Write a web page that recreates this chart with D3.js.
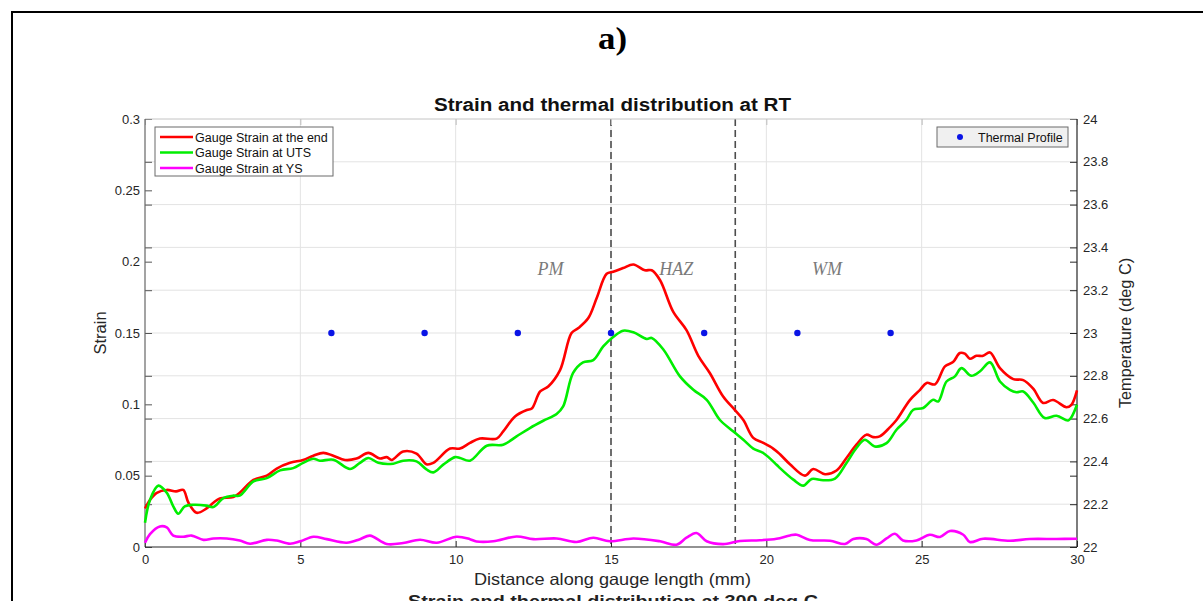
<!DOCTYPE html>
<html>
<head>
<meta charset="utf-8">
<script src="https://cdn.jsdelivr.net/npm/d3@7"></script>
<style>
  html, body { margin: 0; padding: 0; background: #fff; }
  svg { display: block; }
</style>
</head>
<body>
<svg id="chart" width="1203" height="601"></svg>
<script>
// Gauge strain along the specimen, [distance (mm), strain]
const strainEnd = [[0,0.027],[0.16,0.033],[0.38,0.038],[0.7,0.040],[1.0,0.039],[1.23,0.040],[1.4,0.031],[1.66,0.024],[1.98,0.027],[2.2,0.031],[2.41,0.034],[2.84,0.035],[3.05,0.038],[3.49,0.047],[3.92,0.050],[4.24,0.055],[4.67,0.059],[5.09,0.061],[5.42,0.064],[5.74,0.066],[6.06,0.064],[6.44,0.061],[6.81,0.062],[7.19,0.066],[7.56,0.062],[7.78,0.063],[7.94,0.061],[8.31,0.067],[8.74,0.0655],[9.06,0.058],[9.28,0.059],[9.82,0.069],[10.14,0.069],[10.46,0.073],[10.78,0.076],[11.32,0.076],[11.53,0.081],[11.91,0.0915],[12.29,0.096],[12.45,0.097],[12.72,0.109],[12.98,0.1125],[13.36,0.124],[13.73,0.150],[13.95,0.1535],[14.27,0.1605],[14.54,0.1745],[14.86,0.1915],[15.07,0.193],[15.39,0.1955],[15.72,0.198],[16.09,0.194],[16.31,0.194],[16.58,0.187],[17.0,0.165],[17.43,0.152],[17.81,0.134],[18.18,0.122],[18.61,0.1055],[18.99,0.096],[19.26,0.089],[19.58,0.0765],[19.9,0.073],[20.22,0.069],[20.44,0.065],[20.76,0.058],[21.24,0.050],[21.51,0.0547],[21.89,0.051],[22.26,0.0536],[22.58,0.0624],[22.9,0.0717],[23.22,0.0787],[23.44,0.077],[23.65,0.0775],[23.98,0.084],[24.19,0.089],[24.62,0.103],[24.94,0.110],[25.16,0.115],[25.43,0.114],[25.75,0.1266],[26.01,0.1296],[26.23,0.136],[26.39,0.1355],[26.55,0.132],[26.76,0.134],[26.98,0.134],[27.2,0.1364],[27.52,0.1254],[27.95,0.1177],[28.27,0.117],[28.59,0.111],[28.91,0.101],[29.23,0.103],[29.66,0.098],[29.82,0.0997],[30,0.1098]];

const strainUTS = [[0,0.017],[0.16,0.033],[0.43,0.043],[0.7,0.038],[0.91,0.0285],[1.07,0.0233],[1.28,0.0285],[1.55,0.0296],[1.98,0.029],[2.2,0.028],[2.52,0.0343],[2.84,0.036],[3.05,0.036],[3.49,0.046],[3.92,0.0483],[4.35,0.0537],[4.77,0.0553],[5.09,0.059],[5.42,0.0619],[5.63,0.0605],[6.06,0.0612],[6.6,0.0547],[6.92,0.059],[7.19,0.0624],[7.51,0.059],[7.99,0.0584],[8.31,0.0605],[8.74,0.060],[9.06,0.0544],[9.28,0.0523],[9.6,0.0577],[9.98,0.063],[10.14,0.0624],[10.46,0.0605],[11.0,0.071],[11.53,0.0717],[11.96,0.0775],[12.39,0.0834],[12.82,0.0885],[13.25,0.0932],[13.46,0.0985],[13.78,0.122],[14.1,0.1294],[14.43,0.131],[14.75,0.1406],[15.07,0.1472],[15.39,0.1516],[15.72,0.1505],[16.15,0.1458],[16.31,0.1465],[16.69,0.1383],[17.22,0.1196],[17.65,0.1102],[18.08,0.1032],[18.5,0.0892],[18.94,0.081],[19.26,0.0752],[19.58,0.069],[19.9,0.0659],[20.33,0.0577],[20.44,0.0553],[20.87,0.0472],[21.19,0.043],[21.46,0.0477],[21.83,0.0468],[22.21,0.048],[22.58,0.0589],[22.9,0.0694],[23.17,0.0752],[23.49,0.0705],[23.87,0.0728],[24.19,0.0822],[24.51,0.0892],[24.73,0.0962],[25.05,0.0974],[25.37,0.1032],[25.53,0.102],[25.8,0.116],[26.07,0.1196],[26.28,0.1254],[26.6,0.12],[26.87,0.123],[27.2,0.1294],[27.52,0.116],[27.84,0.1102],[28.05,0.1085],[28.27,0.109],[28.59,0.1013],[28.96,0.0904],[29.34,0.092],[29.71,0.0887],[29.82,0.091],[30,0.0997]];

const strainYS = [[0,0.003],[0.16,0.009],[0.48,0.0144],[0.7,0.0137],[0.91,0.008],[1.23,0.0072],[1.5,0.008],[1.88,0.005],[2.2,0.006],[2.63,0.006],[3.05,0.0045],[3.38,0.0023],[3.92,0.005],[4.24,0.0045],[4.67,0.0023],[5.0,0.004],[5.42,0.0072],[5.85,0.0055],[6.49,0.003],[6.92,0.0055],[7.24,0.008],[7.78,0.0021],[8.31,0.0028],[8.85,0.0051],[9.39,0.003],[10.03,0.0072],[10.46,0.0055],[10.67,0.0039],[11.21,0.004],[11.96,0.0074],[12.5,0.0055],[13.25,0.006],[13.89,0.0035],[14.43,0.0065],[14.96,0.004],[15.72,0.006],[16.58,0.004],[17.11,0.0016],[17.43,0.0065],[17.75,0.0098],[18.08,0.004],[18.61,0.002],[19.15,0.0042],[19.79,0.0047],[20.33,0.0058],[20.76,0.0081],[20.98,0.0086],[21.4,0.0049],[22.05,0.0044],[22.53,0.0021],[22.8,0.0056],[23.22,0.0056],[23.54,0.0016],[23.87,0.006],[24.14,0.0093],[24.4,0.0046],[24.83,0.0046],[25.26,0.0086],[25.59,0.007],[25.91,0.0112],[26.34,0.0086],[26.55,0.0035],[26.98,0.0058],[27.84,0.0044],[28.48,0.0056],[29.34,0.0056],[30,0.0058]];

// Thermocouple readings (deg C)
const thermalX = [6, 9, 12, 15, 18, 21, 24];
const thermalT = [23, 23, 23, 23, 23, 23, 23];

// Axis ticks
const distTicks = [0, 5, 10, 15, 20, 25, 30];
const strainTicks = [0, 0.05, 0.1, 0.15, 0.2, 0.25, 0.3];
const strainTickLabels = ["0", "0.05", "0.1", "0.15", "0.2", "0.25", "0.3"];
const tempTicks = [22, 22.2, 22.4, 22.6, 22.8, 23, 23.2, 23.4, 23.6, 23.8, 24];
const tempTickLabels = ["22", "22.2", "22.4", "22.6", "22.8", "23", "23.2", "23.4", "23.6", "23.8", "24"];

// Zone boundaries and names
const zoneBounds = [15, 19];
const zoneNames = [{ name: "PM", x: 13.05 }, { name: "HAZ", x: 17.1 }, { name: "WM", x: 21.95 }];

const series = [
  { name: "Gauge Strain at the end", data: strainEnd, color: "#ff0000" },
  { name: "Gauge Strain at UTS", data: strainUTS, color: "#00ee00" },
  { name: "Gauge Strain at YS", data: strainYS, color: "#ff00ff" }
];

const SANS = "'Liberation Sans', Arial, sans-serif";
const SERIF = "'Liberation Serif', 'Times New Roman', serif";

const svg = d3.select("#chart");
svg.append("rect").attr("width", 1203).attr("height", 601).attr("fill", "#fff");

// outer panel frame
svg.append("path").attr("d", "M12,601 L12,12 L1203,12")
  .attr("fill", "none").attr("stroke", "#000").attr("stroke-width", 2);

svg.append("text").attr("x", 598).attr("y", 49)
  .attr("font-family", SERIF).attr("font-weight", "bold").attr("font-size", 31)
  .attr("textLength", 29).attr("lengthAdjust", "spacingAndGlyphs")
  .text("a)");

const L = 145, R = 1077, T = 119, B = 547;
const x = d3.scaleLinear().domain([0, 30]).range([L, R]);
const yS = d3.scaleLinear().domain([0, 0.3]).range([B, T]);
const yT = d3.scaleLinear().domain([22, 24]).range([B, T]);

// grid
const grid = svg.append("g").attr("stroke", "#e3e3e3").attr("stroke-width", 1);
grid.selectAll("line.v").data(distTicks.slice(1, -1)).join("line")
  .attr("x1", d => x(d)).attr("x2", d => x(d)).attr("y1", T).attr("y2", B);
grid.selectAll("line.h").data(tempTicks.slice(1, -1)).join("line")
  .attr("x1", L).attr("x2", R).attr("y1", d => yT(d)).attr("y2", d => yT(d));

// zone separators
svg.append("g").selectAll("line").data(zoneBounds).join("line")
  .attr("x1", d => x(d)).attr("x2", d => x(d)).attr("y1", T).attr("y2", B)
  .attr("stroke", "#4d4d4d").attr("stroke-width", 1.6).attr("stroke-dasharray", "7,4");

svg.append("g").selectAll("text").data(zoneNames).join("text")
  .attr("x", d => x(d.x)).attr("y", 275).attr("text-anchor", "middle")
  .attr("font-family", SERIF).attr("font-style", "italic").attr("font-size", 18)
  .attr("fill", "#7a7a7a").text(d => d.name);

// axes
function styleAxis(g, color) {
  g.select(".domain").remove();
  g.selectAll(".tick line").attr("stroke", color);
  g.selectAll(".tick text").attr("fill", "#262626").attr("font-family", SANS).attr("font-size", 13);
}
svg.append("g").attr("transform", `translate(0,${B})`)
  .call(d3.axisBottom(x).tickValues(distTicks).tickFormat(d3.format("d")).tickSizeInner(-6).tickSizeOuter(0).tickPadding(8))
  .call(g => styleAxis(g, "#262626"));
svg.append("g").attr("transform", `translate(0,${T})`)
  .call(d3.axisTop(x).tickValues(distTicks).tickFormat("").tickSizeInner(-6).tickSizeOuter(0))
  .call(g => styleAxis(g, "#bdbdbd"));
svg.append("g").attr("transform", `translate(${L},0)`)
  .call(d3.axisLeft(yS).tickValues(strainTicks).tickFormat((d, i) => strainTickLabels[i]).tickSizeInner(-7).tickSizeOuter(0).tickPadding(5))
  .call(g => styleAxis(g, "#555"));
svg.append("g").attr("transform", `translate(${L},0)`)
  .call(d3.axisLeft(yT).tickValues(tempTicks).tickFormat("").tickSizeInner(-7).tickSizeOuter(0))
  .call(g => styleAxis(g, "#555"));
svg.append("g").attr("transform", `translate(${R},0)`)
  .call(d3.axisRight(yT).tickValues(tempTicks).tickFormat((d, i) => tempTickLabels[i]).tickSizeInner(-7).tickSizeOuter(0).tickPadding(6))
  .call(g => styleAxis(g, "#262626"));
svg.append("g").attr("transform", `translate(${R},0)`)
  .call(d3.axisRight(yS).tickValues(strainTicks).tickFormat("").tickSizeInner(-7).tickSizeOuter(0))
  .call(g => styleAxis(g, "#262626"));

// axis box
svg.append("line").attr("x1", L).attr("x2", R).attr("y1", T).attr("y2", T).attr("stroke", "#c4c4c4");
svg.append("line").attr("x1", L).attr("x2", L).attr("y1", T).attr("y2", B).attr("stroke", "#666").attr("stroke-width", 1.2);
svg.append("line").attr("x1", R).attr("x2", R).attr("y1", T).attr("y2", B).attr("stroke", "#262626").attr("stroke-width", 1.2);
svg.append("line").attr("x1", L).attr("x2", R).attr("y1", B).attr("y2", B).attr("stroke", "#262626").attr("stroke-width", 1.2);

// strain curves
const line = d3.line().x(d => x(d[0])).y(d => yS(d[1])).curve(d3.curveCatmullRom.alpha(0.5));
svg.append("g").selectAll("path").data(series).join("path")
  .attr("d", d => line(d.data)).attr("fill", "none")
  .attr("stroke", d => d.color).attr("stroke-width", 2.6).attr("stroke-linejoin", "round");

// thermal profile points
svg.append("g").selectAll("circle").data(thermalX).join("circle")
  .attr("cx", d => x(d)).attr("cy", (d, i) => yT(thermalT[i])).attr("r", 3.2).attr("fill", "#0a14e6");

// titles and axis labels
svg.append("text").attr("x", 434).attr("y", 111)
  .attr("font-family", SANS).attr("font-weight", "bold").attr("font-size", 17.5).attr("fill", "#111")
  .attr("textLength", 357).attr("lengthAdjust", "spacingAndGlyphs")
  .text("Strain and thermal distribution at RT");
svg.append("text").attr("x", 474).attr("y", 585)
  .attr("font-family", SANS).attr("font-size", 16.5).attr("fill", "#262626")
  .attr("textLength", 277).attr("lengthAdjust", "spacingAndGlyphs")
  .text("Distance along gauge length (mm)");
svg.append("text").attr("transform", "translate(106,333) rotate(-90)").attr("text-anchor", "middle")
  .attr("font-family", SANS).attr("font-size", 16.5).attr("fill", "#262626").text("Strain");
svg.append("text").attr("transform", "translate(1131,333) rotate(-90)").attr("text-anchor", "middle")
  .attr("font-family", SANS).attr("font-size", 16.3).attr("fill", "#262626").text("Temperature (deg C)");
svg.append("text").attr("x", 408).attr("y", 607)
  .attr("font-family", SANS).attr("font-weight", "bold").attr("font-size", 17).attr("fill", "#222")
  .attr("textLength", 410).attr("lengthAdjust", "spacingAndGlyphs")
  .text("Strain and thermal distribution at 300 deg C");

// strain legend
const lg = svg.append("g").attr("transform", "translate(155,127)");
lg.append("rect").attr("width", 178).attr("height", 49).attr("fill", "#fff").attr("stroke", "#6b6b6b");
series.forEach((s, i) => {
  const yy = 10 + i * 15.5;
  lg.append("line").attr("x1", 5).attr("x2", 38).attr("y1", yy).attr("y2", yy)
    .attr("stroke", s.color).attr("stroke-width", 2.4);
  lg.append("text").attr("x", 40).attr("y", yy + 4.5).attr("font-family", SANS).attr("font-size", 12.5)
    .attr("fill", "#111").text(s.name);
});

// thermal legend
const tg = svg.append("g").attr("transform", "translate(937,127)");
tg.append("rect").attr("width", 131).attr("height", 20).attr("fill", "#f0f0f0").attr("stroke", "#6b6b6b");
tg.append("circle").attr("cx", 23).attr("cy", 10).attr("r", 3).attr("fill", "#0a14e6");
tg.append("text").attr("x", 41).attr("y", 14.5).attr("font-family", SANS).attr("font-size", 12.5)
  .attr("fill", "#111").text("Thermal Profile");
</script>
</body>
</html>
